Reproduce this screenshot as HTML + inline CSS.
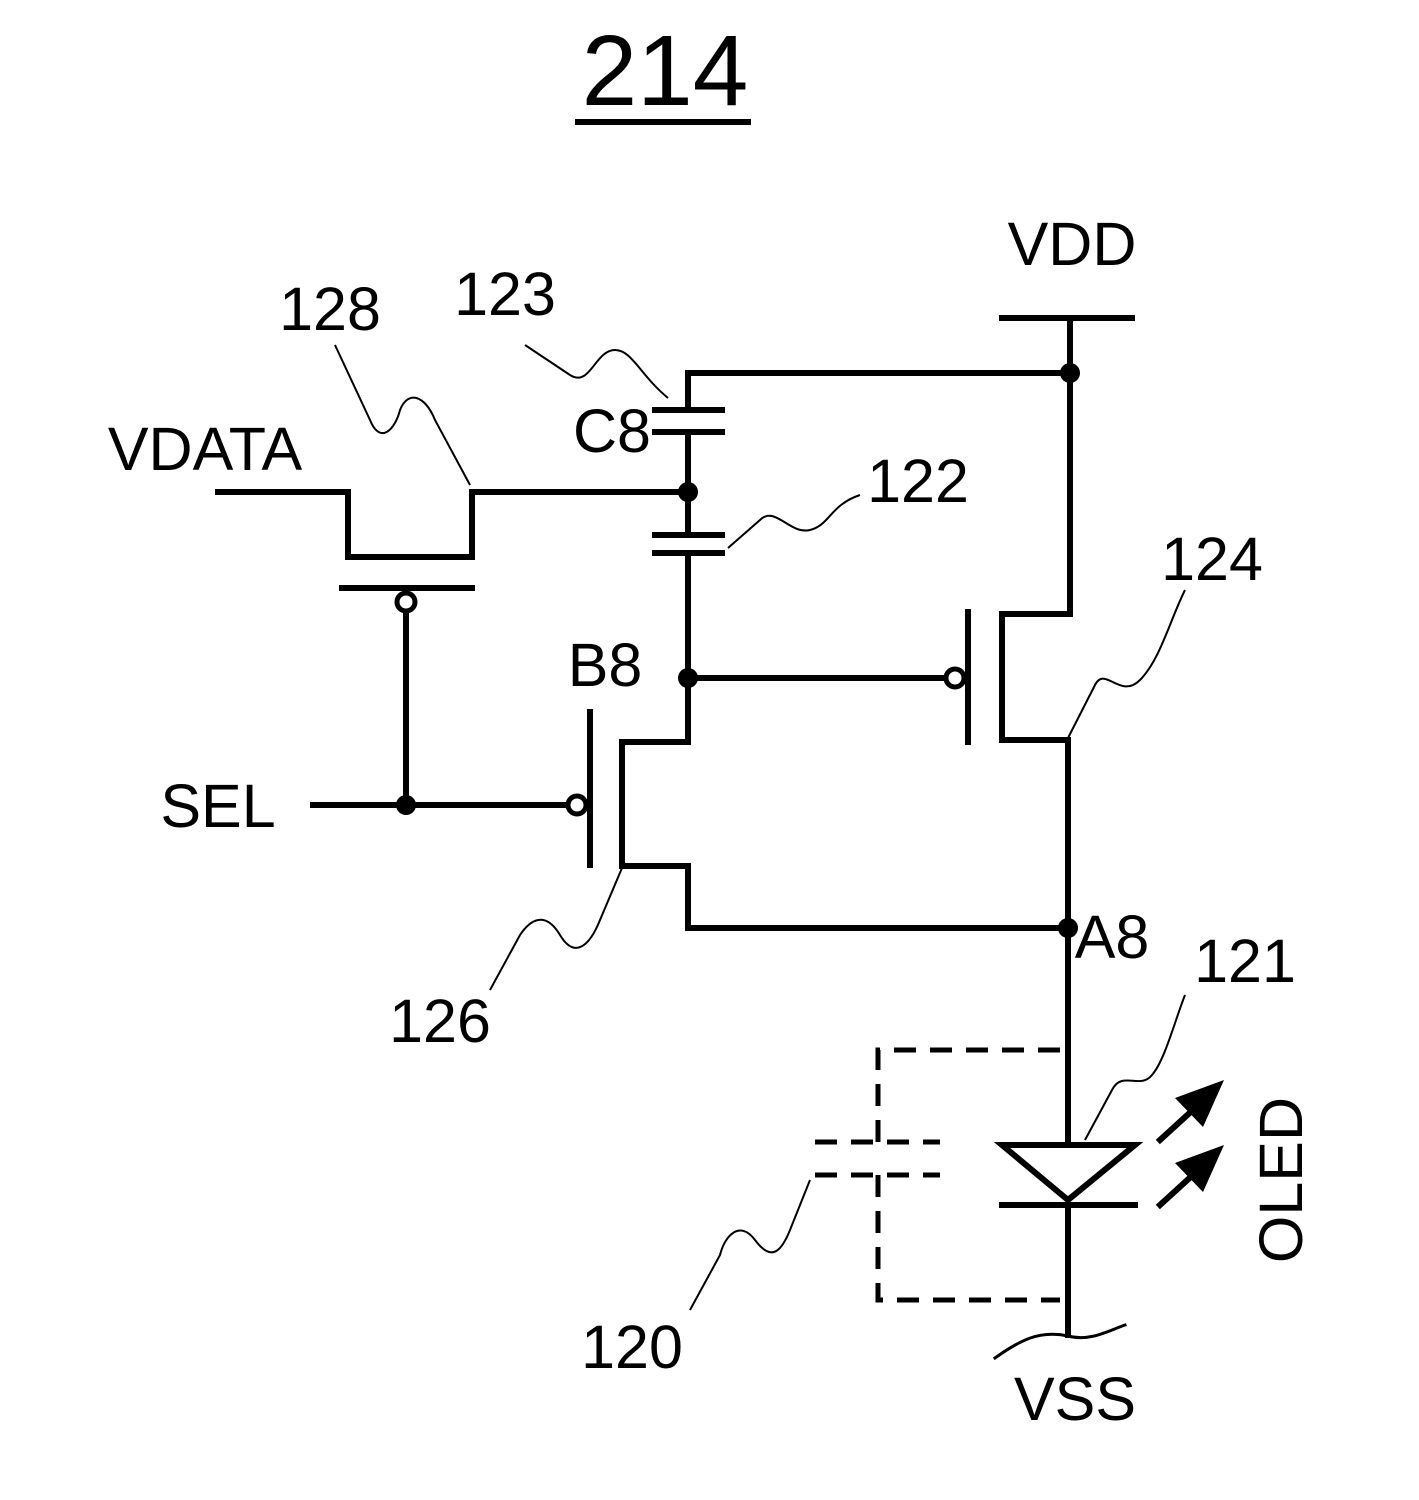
<!DOCTYPE html>
<html><head><meta charset="utf-8"><style>
html,body{margin:0;padding:0;background:#fff;}
svg{display:block;}
text{font-family:"Liberation Sans",sans-serif;fill:#000;}
</style></head><body>
<svg width="1419" height="1500" viewBox="0 0 1419 1500" xmlns="http://www.w3.org/2000/svg">
<g stroke="#000" stroke-width="6" fill="none" stroke-linecap="square">
<line x1="578" y1="122" x2="748" y2="122"/>
<line x1="1002" y1="318" x2="1132" y2="318"/>
<line x1="1070" y1="318" x2="1070" y2="614"/>
<polyline points="1070,373 688,373 688,410"/>
<line x1="655" y1="410" x2="722" y2="410"/>
<line x1="655" y1="432" x2="722" y2="432"/>
<line x1="688" y1="432" x2="688" y2="535"/>
<line x1="655" y1="535" x2="722" y2="535"/>
<line x1="655" y1="553" x2="722" y2="553"/>
<polyline points="688,553 688,742 622,742"/>
<line x1="622" y1="742" x2="622" y2="866"/>
<line x1="590" y1="712" x2="590" y2="865"/>
<polyline points="622,866 688,866 688,928 1068,928"/>
<line x1="313" y1="805" x2="566" y2="805"/>
<line x1="968" y1="612" x2="968" y2="742"/>
<line x1="1002" y1="614" x2="1002" y2="740"/>
<polyline points="1002,614 1070,614"/>
<polyline points="1002,740 1068,740 1068,1145"/>
<line x1="688" y1="678" x2="944" y2="678"/>
<polyline points="218,492 348,492 348,557 472,557 472,492 688,492"/>
<line x1="342" y1="588" x2="472" y2="588"/>
<line x1="406" y1="612" x2="406" y2="805"/>
<polygon points="1002,1145 1135,1145 1068,1200" stroke-linejoin="miter"/>
<line x1="1002" y1="1205" x2="1135" y2="1205"/>
<line x1="1068" y1="1205" x2="1068" y2="1335"/>
<path d="M995,1358 C1020,1340 1040,1330 1068,1336 C1090,1342 1110,1330 1125,1325" stroke-width="3"/>
<line x1="1160" y1="1140" x2="1195" y2="1108"/>
<line x1="1160" y1="1205" x2="1195" y2="1173"/>
</g>
<g fill="#000">
<polygon points="1224,1080 1175,1098 1203,1127"/>
<polygon points="1224,1145 1175,1163 1203,1192"/>
<circle cx="1070" cy="373" r="10"/>
<circle cx="688" cy="492" r="10"/>
<circle cx="688" cy="678" r="10"/>
<circle cx="406" cy="805" r="10"/>
<circle cx="1068" cy="928" r="10"/>
</g>
<g stroke="#000" stroke-width="5" fill="#fff">
<circle cx="577" cy="805" r="9"/>
<circle cx="955" cy="678" r="9"/>
<circle cx="406" cy="602" r="9"/>
</g>
<g stroke="#000" stroke-width="5" fill="none" stroke-dasharray="22,14">
<polyline points="1060,1050 878,1050 878,1142"/>
<line x1="815" y1="1142" x2="940" y2="1142"/>
<line x1="815" y1="1175" x2="940" y2="1175"/>
<polyline points="878,1175 878,1300 1060,1300"/>
</g>
<g stroke="#000" stroke-width="2" fill="none">
<path d="M335,345 L370,420 C380,445 395,430 400,410 C408,390 425,395 435,420 L470,485"/>
<path d="M525,345 L570,375 C590,388 595,350 615,350 C632,350 640,375 668,398"/>
<path d="M728,548 L760,520 C775,505 790,535 810,530 C830,525 830,505 860,495"/>
<path d="M1068,738 L1095,685 C1105,665 1120,700 1140,680 C1160,660 1170,620 1185,590"/>
<path d="M622,868 L600,920 C590,945 575,960 560,935 C545,910 530,920 520,935 L490,990"/>
<path d="M1085,1140 L1112,1090 C1122,1070 1140,1090 1152,1075 C1165,1060 1175,1020 1185,995"/>
<path d="M810,1180 L790,1230 C780,1255 770,1260 755,1240 C740,1220 725,1235 720,1255 L690,1310"/>
</g>
<g font-size="61">
<text x="665" y="105" text-anchor="middle" font-size="100">214</text>
<text x="1072" y="265" text-anchor="middle">VDD</text>
<text x="330" y="330" text-anchor="middle">128</text>
<text x="505" y="315" text-anchor="middle">123</text>
<text x="205" y="470" text-anchor="middle">VDATA</text>
<text x="612" y="452" text-anchor="middle">C8</text>
<text x="918" y="502" text-anchor="middle">122</text>
<text x="1212" y="580" text-anchor="middle">124</text>
<text x="605" y="686" text-anchor="middle">B8</text>
<text x="218" y="827" text-anchor="middle">SEL</text>
<text x="1112" y="958" text-anchor="middle">A8</text>
<text x="1245" y="982" text-anchor="middle">121</text>
<text x="440" y="1042" text-anchor="middle">126</text>
<text x="632" y="1368" text-anchor="middle">120</text>
<text x="1075" y="1420" text-anchor="middle">VSS</text>
<text x="0" y="0" text-anchor="middle" transform="translate(1302,1180) rotate(-90)">OLED</text>
</g>
</svg>
</body></html>
